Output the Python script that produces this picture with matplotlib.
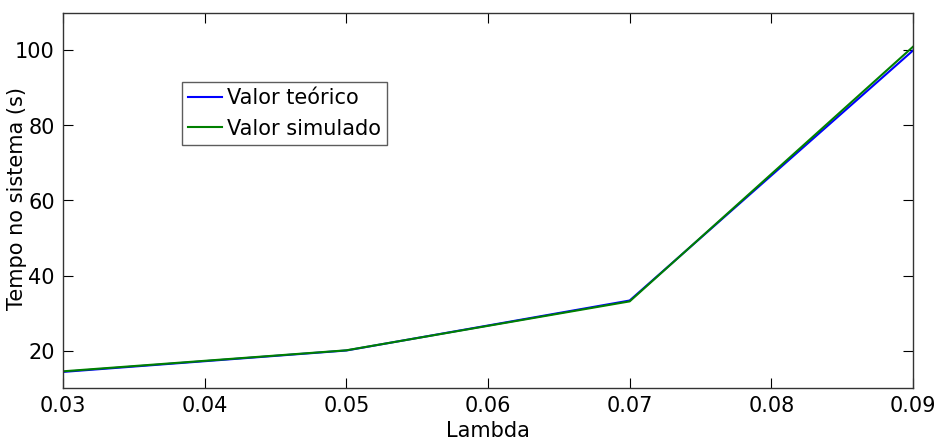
import matplotlib
matplotlib.use("Agg")
import matplotlib.pyplot as plt

lambdas = [0.03, 0.05, 0.07, 0.09]
teorico = [14.29, 20.0, 33.33, 100.0]
simulado = [14.45, 20.05, 33.1, 101.0]

plt.rcParams['font.family'] = ['DejaVu Sans']
fig = plt.figure(figsize=(9.41, 4.40), dpi=100)
ax = fig.add_axes([63/941, 1-388/440, 850/941, 375/440])
ax.plot(lambdas, teorico, color='#0000ff', lw=1.5, label='Valor teórico')
ax.plot(lambdas, simulado, color='#008000', lw=1.5, label='Valor simulado')
ax.set_xlim(0.03, 0.09)
ax.set_ylim(10, 110)
ax.set_xticks([0.03, 0.04, 0.05, 0.06, 0.07, 0.08, 0.09])
ax.set_xticklabels(['0.03', '0.04', '0.05', '0.06', '0.07', '0.08', '0.09'])
ax.set_yticks([20, 40, 60, 80, 100])
ax.tick_params(direction='in', top=True, right=True, length=7, labelsize=15, pad=6)
for s in ax.spines.values():
    s.set_color('#333333')
    s.set_linewidth(1.0)
ax.set_xlabel('Lambda', fontsize=15, labelpad=3)
ax.set_ylabel('Tempo no sistema (s)', fontsize=15)
ax.yaxis.set_label_coords((27 - 63) / 850, 0.504)
leg = ax.legend(loc='upper left', bbox_to_anchor=((182 - 63) / 850, (388 - 82) / 375),
                fontsize=15, frameon=True, fancybox=False, edgecolor='#333333',
                handlelength=1.6, handletextpad=0.25, borderpad=0.3,
                labelspacing=0.5, borderaxespad=0)
leg.get_frame().set_linewidth(1.0)
fig.savefig('out.png', dpi=100)
